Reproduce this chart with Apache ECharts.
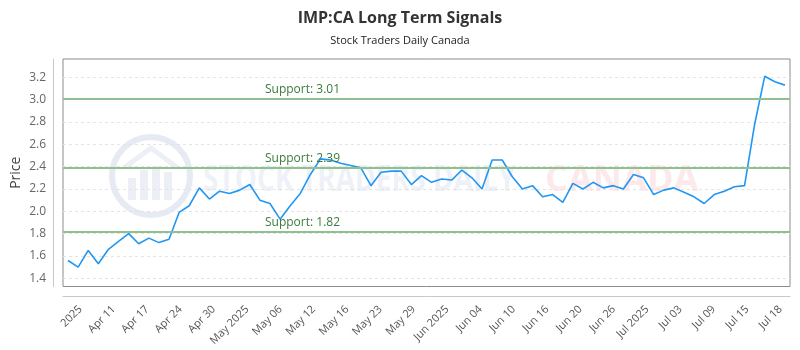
<!DOCTYPE html>
<html>
<head>
<meta charset="utf-8">
<script src="https://cdn.jsdelivr.net/npm/echarts@6/dist/echarts.min.js"></script>
<style>html,body{margin:0;padding:0;background:#fff}#chart{width:800px;height:350px}</style>
</head>
<body>
<div id="chart"></div>
<script>
// ---- data ----
const dates = ['2025-04-07','2025-04-08','2025-04-09','2025-04-10','2025-04-11','2025-04-14','2025-04-15','2025-04-16','2025-04-17','2025-04-21','2025-04-22','2025-04-23','2025-04-24','2025-04-25','2025-04-28','2025-04-29','2025-04-30','2025-05-01','2025-05-02','2025-05-05','2025-05-06','2025-05-07','2025-05-08','2025-05-09','2025-05-12','2025-05-13','2025-05-14','2025-05-15','2025-05-16','2025-05-20','2025-05-21','2025-05-22','2025-05-23','2025-05-26','2025-05-27','2025-05-28','2025-05-29','2025-05-30','2025-06-02','2025-06-03','2025-06-04','2025-06-05','2025-06-06','2025-06-09','2025-06-10','2025-06-11','2025-06-12','2025-06-13','2025-06-16','2025-06-17','2025-06-18','2025-06-19','2025-06-20','2025-06-23','2025-06-24','2025-06-25','2025-06-26','2025-06-27','2025-06-30','2025-07-02','2025-07-03','2025-07-04','2025-07-07','2025-07-08','2025-07-09','2025-07-10','2025-07-11','2025-07-14','2025-07-15','2025-07-16','2025-07-17','2025-07-18'];
const prices = [1.56,1.50,1.65,1.53,1.66,1.73,1.80,1.71,1.76,1.72,1.75,1.99,2.05,2.21,2.11,2.18,2.16,2.19,2.24,2.10,2.07,1.93,2.05,2.16,2.33,2.47,2.46,2.43,2.41,2.39,2.23,2.35,2.36,2.36,2.24,2.32,2.26,2.29,2.28,2.37,2.30,2.20,2.46,2.46,2.31,2.20,2.23,2.13,2.15,2.08,2.25,2.20,2.26,2.21,2.23,2.20,2.33,2.30,2.15,2.19,2.21,2.17,2.13,2.07,2.15,2.18,2.22,2.23,2.78,3.21,3.16,3.13];
const supports = [3.01, 2.39, 1.82];
const tickLabels = ['2025','Apr 11','Apr 17','Apr 24','Apr 30','May 2025','May 06','May 12','May 16','May 23','May 29','Jun 2025','Jun 04','Jun 10','Jun 16','Jun 20','Jun 26','Jul 2025','Jul 03','Jul 09','Jul 15','Jul 18'];
const titleText = 'IMP:CA Long Term Signals';
const subtitleText = 'Stock Traders Daily Canada';

const sans = '"Open Sans", "Noto Sans", sans-serif';

const chart = echarts.init(document.getElementById('chart'), null, {renderer: 'canvas'});
const option = {
  backgroundColor: '#fff',
  animation: false,
  title: {
    text: titleText,
    subtext: subtitleText,
    left: 'center',
    top: 5,
    itemGap: 9,
    textStyle: {fontFamily: sans, fontSize: 16, fontWeight: 'bold', color: '#333'},
    subtextStyle: {fontFamily: sans, fontSize: 11, color: '#222'}
  },
  graphic: [
    {type: 'circle', z: 0, silent: true, shape: {cx: 151, cy: 176, r: 39}, style: {fill: 'none', stroke: '#e6eaf3', lineWidth: 6}},
    {type: 'rect', z: 0, silent: true, shape: {x: 128, y: 178, width: 8, height: 22}, style: {fill: '#eceff6'}},
    {type: 'rect', z: 0, silent: true, shape: {x: 140, y: 170, width: 8, height: 30}, style: {fill: '#eceff6'}},
    {type: 'rect', z: 0, silent: true, shape: {x: 152, y: 166, width: 8, height: 34}, style: {fill: '#eceff6'}},
    {type: 'rect', z: 0, silent: true, shape: {x: 164, y: 172, width: 8, height: 28}, style: {fill: '#eceff6'}},
    {type: 'polyline', z: 0, silent: true, shape: {points: [[124, 168], [151, 148], [178, 168]]}, style: {stroke: '#eceff6', lineWidth: 5, fill: 'none'}},
    {type: 'text', z: 0, silent: true, x: 203, y: 163, scaleX: 0.78, style: {x: 0, y: 0, text: 'STOCK TRADERS DAILY', font: 'bold 36px ' + sans, fill: '#eef1f7', verticalAlign: 'top'}},
    {type: 'text', z: 0, silent: true, x: 545, y: 163, scaleX: 1.0, style: {x: 0, y: 0, text: 'CANADA', font: 'bold 36px ' + sans, fill: '#fde9e9', verticalAlign: 'top'}}
  ],
  grid: [
    {left: 63, right: 10, top: 59, bottom: 63.5, show: true, borderColor: '#8c8c8c', borderWidth: 1, backgroundColor: 'transparent', containLabel: false, outerBoundsMode: 'none'},
    {left: 80.5, right: 19.5, top: 59, bottom: 63.5, show: false, containLabel: false, outerBoundsMode: 'none'}
  ],
  xAxis: [
    {
      type: 'category', gridIndex: 0, data: dates, boundaryGap: true, position: 'bottom', offset: 10,
      axisLine: {show: true, lineStyle: {color: '#c8c8c8', width: 1}},
      axisTick: {show: false}, axisLabel: {show: false}, splitLine: {show: false}
    },
    {
      type: 'category', gridIndex: 1, data: tickLabels, boundaryGap: false, position: 'bottom', offset: 10,
      axisLine: {show: false}, axisTick: {show: false}, splitLine: {show: false},
      axisLabel: {interval: 0, rotate: 45, margin: 11, fontFamily: sans, fontSize: 11, color: '#555', hideOverlap: false}
    }
  ],
  yAxis: [
    {
      type: 'value', gridIndex: 0, min: 1.327, max: 3.364, splitNumber: 10, offset: 10,
      name: 'Price', nameLocation: 'middle', nameGap: 30, nameMoveOverlap: false,
      nameTextStyle: {fontFamily: sans, fontSize: 14, color: '#444'},
      axisLine: {show: true, lineStyle: {color: '#c8c8c8', width: 1}},
      axisTick: {show: false},
      axisLabel: {margin: 7, fontFamily: sans, fontSize: 12, color: '#666', showMinLabel: false, showMaxLabel: false,
        formatter: v => v.toFixed(1)},
      splitLine: {show: true, showMinLine: false, showMaxLine: false, lineStyle: {color: '#e4e4e4', type: [3, 3], width: 1}}
    },
    {type: 'value', gridIndex: 1, show: false, splitLine: {show: false}}
  ],
  series: [{
    type: 'line', xAxisIndex: 0, yAxisIndex: 0, data: prices,
    symbol: 'none', smooth: false,
    lineStyle: {color: '#2196f3', width: 1.6}, itemStyle: {color: '#2196f3'},
    z: 3,
    markLine: {
      silent: true, symbol: ['none', 'none'], animation: false,
      lineStyle: {color: '#8fc08f', width: 2, type: 'solid'},
      label: {show: true, position: 'insideStartTop', distance: [202, 3], fontFamily: sans, fontSize: 12, color: '#3b7a3b',
        formatter: p => 'Support: ' + p.value.toFixed(2)},
      data: supports.map(v => ({yAxis: v}))
    }
  }]
};
chart.setOption(option);
</script>
</body>
</html>
